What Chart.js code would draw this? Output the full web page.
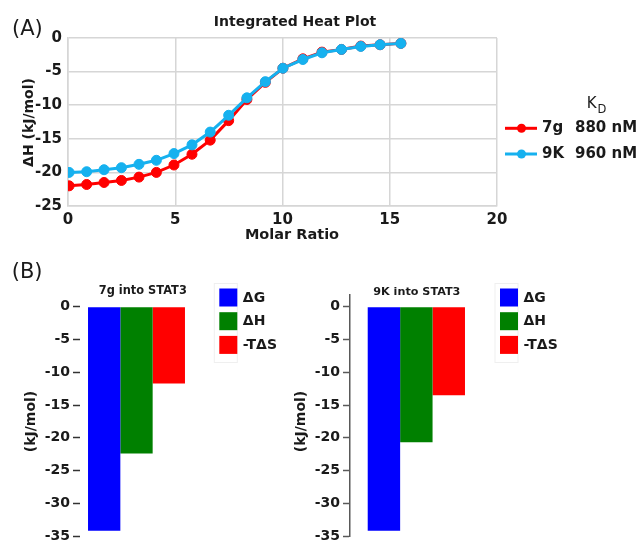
<!DOCTYPE html>
<html>
<head>
<meta charset="utf-8">
<script src="https://cdn.jsdelivr.net/npm/chart.js@4.4.0/dist/chart.umd.min.js"></script>
<style>
  html, body { margin: 0; padding: 0; background: #fff; overflow: hidden; }
  body { width: 639px; height: 540px; position: relative; }
  canvas { position: absolute; }
  #heat { left: 0; top: 0; }
  #g7 { left: 0; top: 250px; }
  #k9 { left: 290px; top: 250px; }
</style>
</head>
<body>
<canvas id="heat" width="639" height="250"></canvas>
<canvas id="g7" width="320" height="300"></canvas>
<canvas id="k9" width="349" height="300"></canvas>
<script>
// panel A - integrated heats
const molarRatio = [0.05, 0.87, 1.68, 2.49, 3.31, 4.12, 4.94, 5.78, 6.63, 7.49, 8.34, 9.2, 10.02, 10.95, 11.84, 12.75, 13.65, 14.55, 15.52];
const heat7g = [-22.0, -21.8, -21.5, -21.2, -20.7, -20.0, -18.9, -17.3, -15.2, -12.3, -9.15, -6.6, -4.5, -3.1, -2.1, -1.7, -1.2, -1.0, -0.8];
const heat9K = [-20.0, -19.9, -19.6, -19.3, -18.8, -18.2, -17.2, -15.9, -14.0, -11.5, -8.9, -6.5, -4.5, -3.2, -2.2, -1.7, -1.25, -1.0, -0.8];
const compounds = ['7g', '9K'];
const kdValues = ['880 nM', '960 nM'];
const heatXTicks = [0, 5, 10, 15, 20];
const heatYTicks = [0, -5, -10, -15, -20, -25];

// panel B - thermodynamic signature
const terms = ['ΔG', 'ΔH', '-TΔS'];
const terms7g = [-34.2, -22.4, -11.7];
const terms9K = [-34.2, -20.7, -13.5];
const barTicks = [0, -2.5, -5, -7.5, -10, -12.5, -15, -17.5, -20, -22.5, -25, -27.5, -30, -32.5, -35];

const RED = '#ff0000';
const BLUE = '#16b1ef';
const termColors = ['#0000ff', '#008000', '#ff0000'];
const INK = '#1a1a1a';
const GRID = '#d6d6d6';
const FONT = '"DejaVu Sans"';

// free text + hand placed legends
const notes = {
  id: 'notes',
  afterDraw(chart, args, opts) {
    const ctx = chart.ctx;
    (opts.items || []).forEach(t => {
      ctx.save();
      ctx.font = t.font;
      ctx.fillStyle = t.color || INK;
      ctx.textAlign = t.align || 'center';
      ctx.textBaseline = 'middle';
      ctx.translate(t.x, t.y);
      if (t.rot) ctx.rotate(t.rot);
      ctx.fillText(t.text, 0, 0);
      ctx.restore();
    });
    if (opts.lineLegend) {
      const L = opts.lineLegend;
      chart.data.datasets.forEach((ds, i) => {
        const y = L.y + i * L.step;
        ctx.save();
        ctx.strokeStyle = ds.borderColor;
        ctx.fillStyle = ds.borderColor;
        ctx.lineWidth = 3;
        ctx.beginPath();
        ctx.moveTo(L.x, y);
        ctx.lineTo(L.x + 32, y);
        ctx.stroke();
        ctx.beginPath();
        ctx.arc(L.x + 16.5, y, 4.5, 0, Math.PI * 2);
        ctx.fill();
        ctx.font = 'bold 15px ' + FONT;
        ctx.fillStyle = INK;
        ctx.textAlign = 'left';
        ctx.textBaseline = 'middle';
        ctx.fillText(compounds[i], L.x + 37, y);
        ctx.fillText(kdValues[i], L.x + 70, y);
        ctx.restore();
      });
    }
    if (opts.boxLegend) {
      const L = opts.boxLegend;
      ctx.save();
      ctx.strokeStyle = '#efefef';
      ctx.lineWidth = 1;
      ctx.strokeRect(L.x - 5, L.y - 5, 23, 79);
      chart.data.datasets.forEach((ds, i) => {
        const y = L.y + i * 23.7;
        ctx.fillStyle = ds.backgroundColor;
        ctx.fillRect(L.x, y, 18, 18);
        ctx.font = 'bold 14px ' + FONT;
        ctx.fillStyle = INK;
        ctx.textAlign = 'left';
        ctx.textBaseline = 'middle';
        ctx.fillText(ds.label, L.x + 23.5, y + 9.5);
      });
      ctx.restore();
    }
  }
};

const tickFont = { family: FONT, size: 15, weight: 'bold' };

new Chart(document.getElementById('heat'), {
  type: 'line',
  data: {
    datasets: [
      {
        label: compounds[0],
        data: molarRatio.map((x, i) => ({ x: x, y: heat7g[i] })),
        borderColor: RED, backgroundColor: RED,
        borderWidth: 3, pointRadius: 5, pointHoverRadius: 5, pointBorderWidth: 1,
        order: 1
      },
      {
        label: compounds[1],
        data: molarRatio.map((x, i) => ({ x: x, y: heat9K[i] })),
        borderColor: BLUE, backgroundColor: BLUE,
        borderWidth: 3, pointRadius: 5, pointHoverRadius: 5, pointBorderWidth: 1,
        order: 0
      }
    ]
  },
  options: {
    responsive: false,
    animation: false,
    devicePixelRatio: 1,
    layout: { padding: { left: 0, top: 38, right: 142, bottom: 0 } },
    plugins: {
      legend: { display: false },
      tooltip: { enabled: false },
      notes: {
        items: [
          { text: '(A)', x: 12, y: 30, align: 'left', font: '21px ' + FONT },
          { text: 'Integrated Heat Plot', x: 295, y: 22.5, font: 'bold 14px ' + FONT },
          { text: 'Molar Ratio', x: 292, y: 235, font: 'bold 14.5px ' + FONT },
          { text: 'ΔH (kJ/mol)', x: 29, y: 122.5, rot: -Math.PI / 2, font: 'bold 14px ' + FONT },
          { text: 'K', x: 586.7, y: 104, align: 'left', font: '15px ' + FONT },
          { text: 'D', x: 597.5, y: 110, align: 'left', font: '11.5px ' + FONT }
        ],
        lineLegend: { x: 505, y: 128.3, step: 25.7 }
      }
    },
    scales: {
      x: {
        type: 'linear', min: 0, max: 20,
        afterBuildTicks: s => { s.ticks = heatXTicks.map(v => ({ value: v })); },
        afterFit: s => { s.height = 44; },
        grid: { color: GRID, lineWidth: 1.5, drawTicks: false },
        border: { color: GRID, width: 1.5 },
        ticks: { font: tickFont, color: INK, padding: 5, maxRotation: 0 }
      },
      y: {
        min: -25, max: 0,
        afterBuildTicks: s => { s.ticks = heatYTicks.map(v => ({ value: v })); },
        afterFit: s => { s.width = 68; },
        grid: { color: GRID, lineWidth: 1.5, drawTicks: false },
        border: { color: GRID, width: 1.5 },
        ticks: { font: tickFont, color: INK, padding: 6 }
      }
    }
  },
  plugins: [notes]
});

function termChart(id, values, o) {
  return new Chart(document.getElementById(id), {
    type: 'bar',
    data: {
      labels: [''],
      datasets: terms.map((t, i) => ({
        label: t,
        data: [values[i]],
        backgroundColor: termColors[i],
        borderWidth: 0
      }))
    },
    options: {
      responsive: false,
      animation: false,
      devicePixelRatio: 1,
      layout: { padding: { left: 0, top: 45, right: o.right, bottom: 14 } },
      datasets: { bar: { categoryPercentage: o.cat, barPercentage: 1 } },
      plugins: {
        legend: { display: false },
        tooltip: { enabled: false },
        notes: {
          items: o.items,
          boxLegend: { x: o.legendX, y: 38.5 }
        }
      },
      scales: {
        x: { display: false },
        y: {
          min: -35, max: 1.8,
          afterBuildTicks: s => { s.ticks = barTicks.map(v => ({ value: v })); },
          afterFit: s => { s.width = o.axisX; },
          grid: {
            drawOnChartArea: false,
            tickLength: 7,
            tickWidth: 1.5,
            tickColor: o.tickColor,
            tickBorderDash: [7, 50],
            tickBorderDashOffset: c => (c.tick && c.tick.value % 5 !== 0) ? 55 : 0
          },
          border: { display: o.axisLine, color: o.tickColor, width: 1.5 },
          ticks: {
            font: { family: FONT, size: 14, weight: 'bold' },
            color: INK,
            padding: 3,
            callback: v => (v % 5 === 0 ? String(v) : '')
          }
        }
      }
    },
    plugins: [notes]
  });
}

termChart('g7', terms7g, {
  right: 127, cat: 0.858, axisX: 80, axisLine: false, tickColor: '#333', legendX: 219.3,
  items: [
    { text: '(B)', x: 11.7, y: 23, align: 'left', font: '21px ' + FONT },
    { text: '7g into STAT3', x: 142.8, y: 41, font: 'bold 11.4px ' + FONT },
    { text: '(kJ/mol)', x: 31, y: 171.5, rot: -Math.PI / 2, font: 'bold 14px ' + FONT }
  ]
});

termChart('k9', terms9K, {
  right: 156.3, cat: 0.733, axisX: 60, axisLine: true, tickColor: '#595959', legendX: 210,
  items: [
    { text: '9K into STAT3', x: 126.8, y: 41.7, font: 'bold 11.2px ' + FONT },
    { text: '(kJ/mol)', x: 11.5, y: 171.5, rot: -Math.PI / 2, font: 'bold 14px ' + FONT }
  ]
});
</script>
</body>
</html>
